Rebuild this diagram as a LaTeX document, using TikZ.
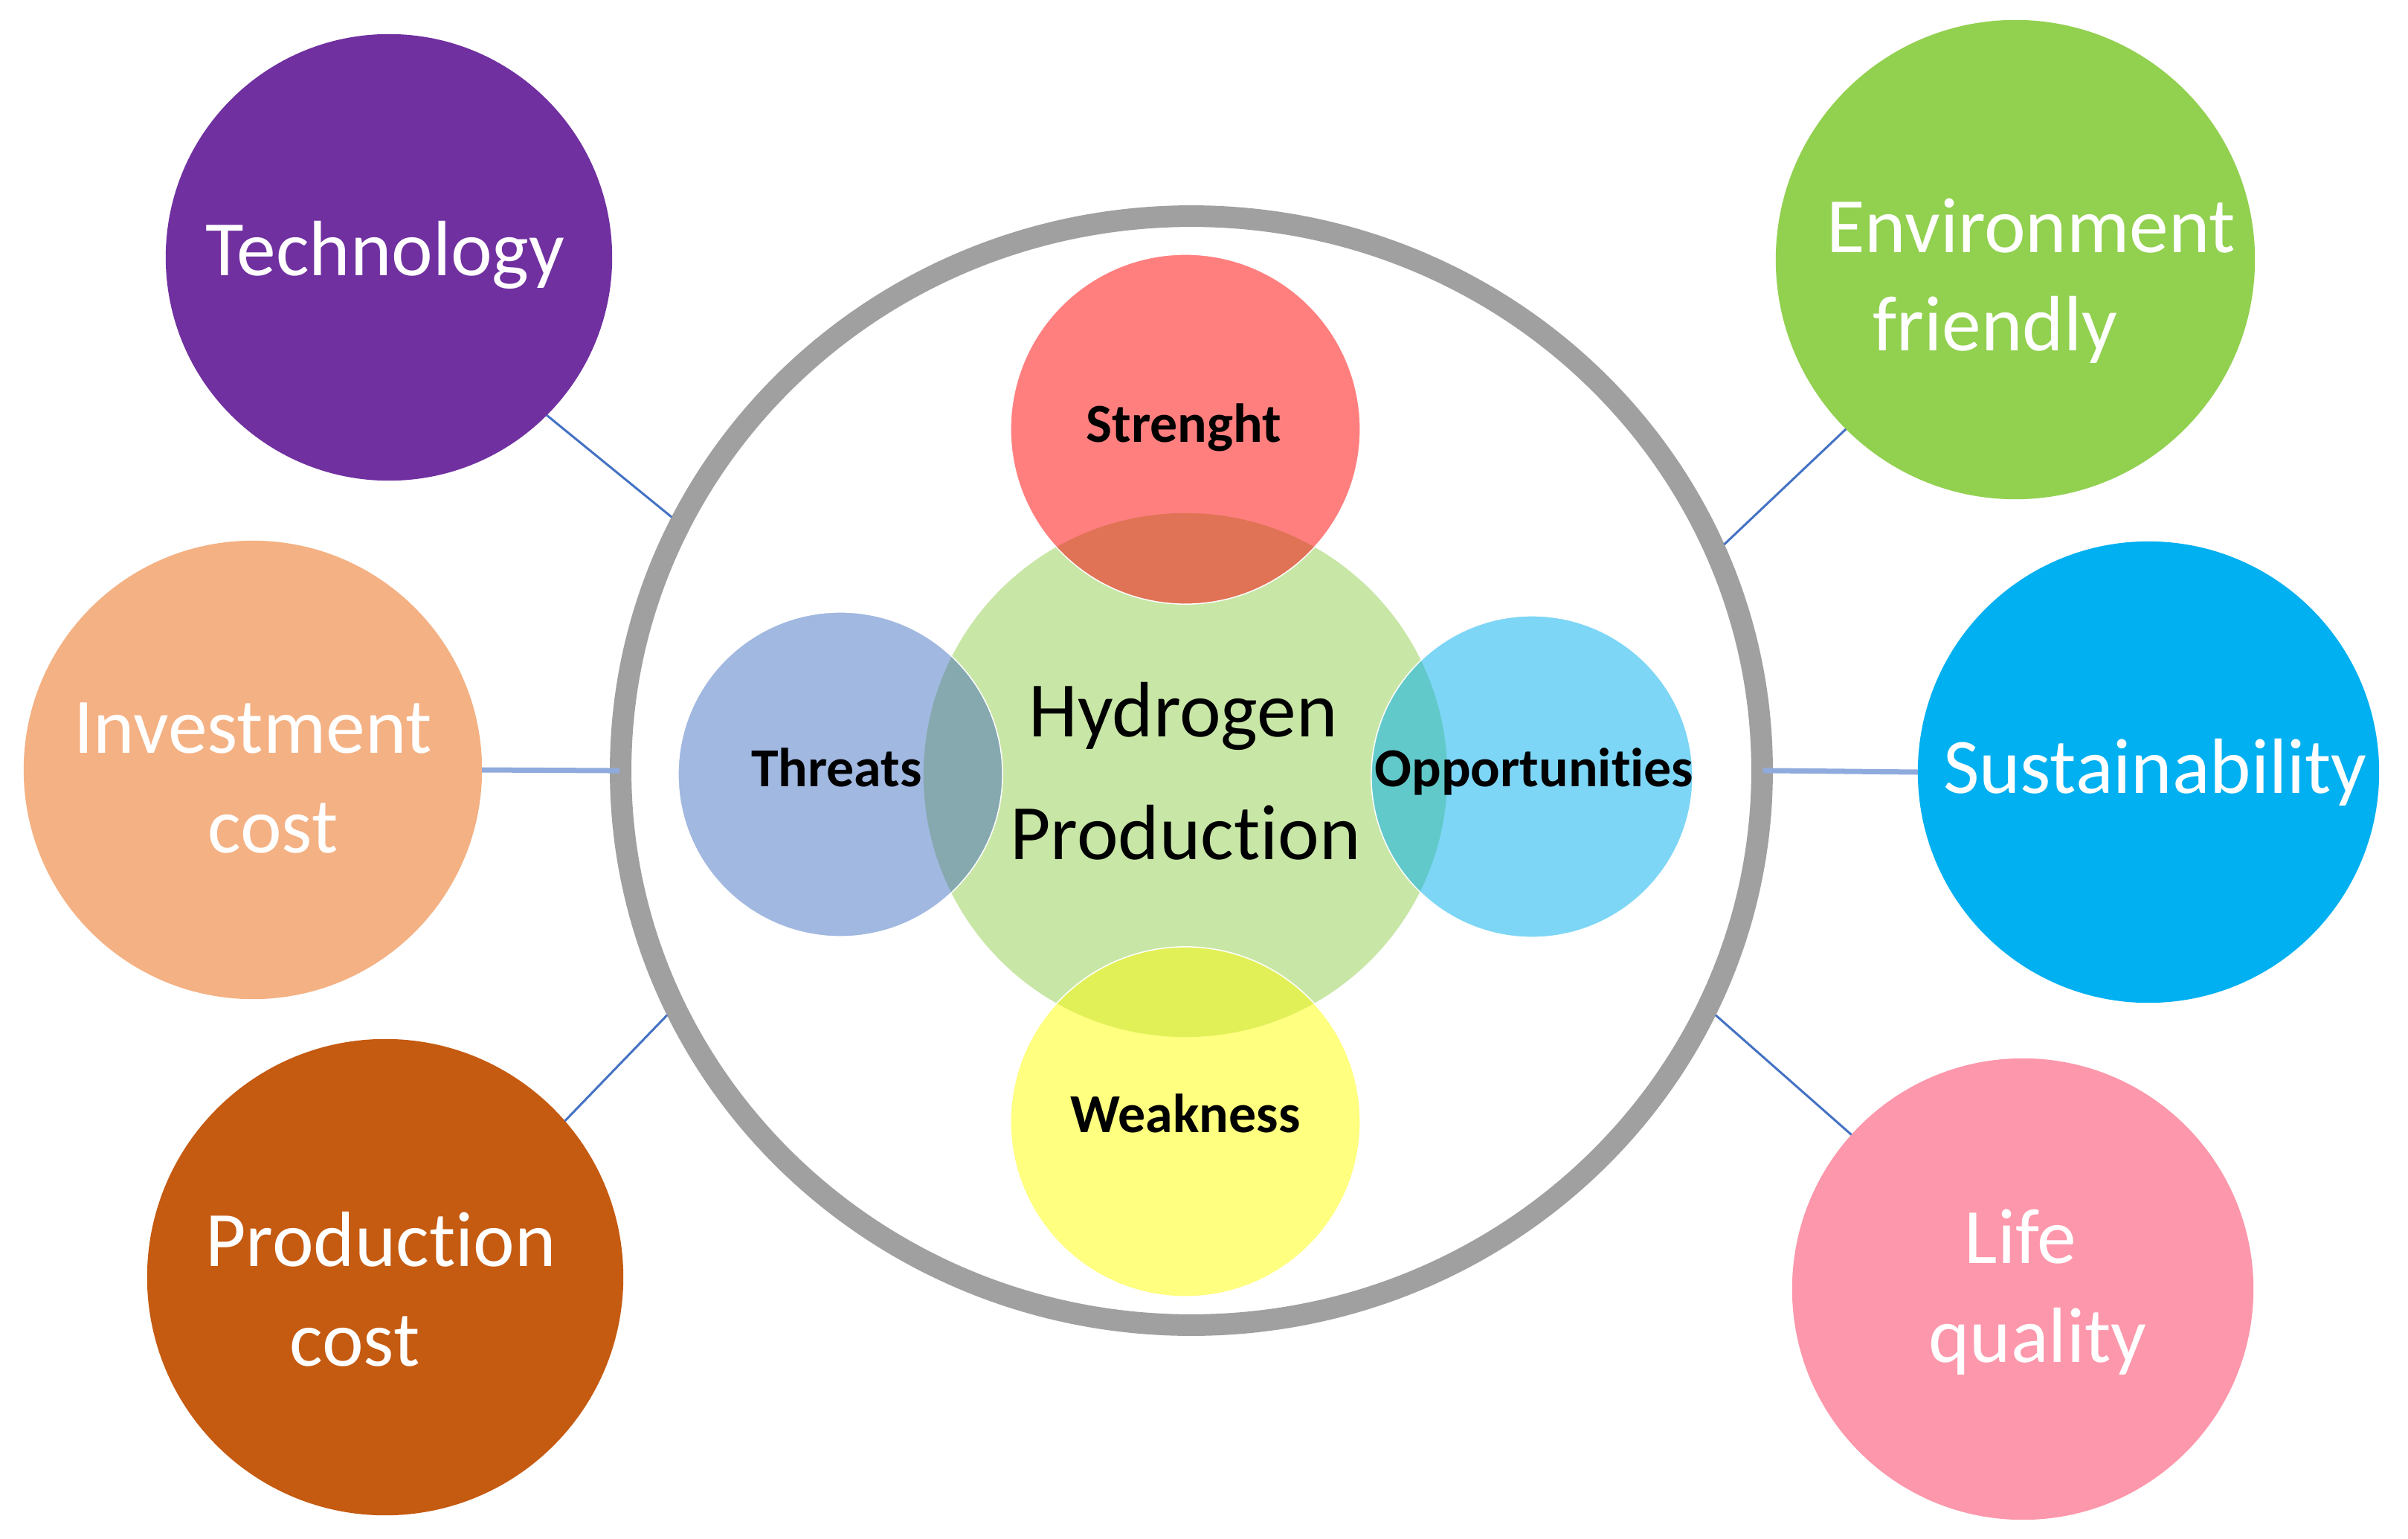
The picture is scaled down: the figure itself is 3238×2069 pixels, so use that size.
\documentclass[tikz,border=0pt]{standalone}
\usepackage{fontspec}
\setmainfont{Carlito}[Ligatures=NoCommon]
\usetikzlibrary{shapes.geometric}
\definecolor{cTech}{HTML}{7030A0}
\definecolor{cEnv}{HTML}{92D050}
\definecolor{cInv}{HTML}{F4B183}
\definecolor{cSus}{HTML}{00B0F0}
\definecolor{cProd}{HTML}{C55A11}
\definecolor{cLife}{HTML}{FD97AB}
\definecolor{cRing}{HTML}{A0A0A0}
\definecolor{cGreen}{HTML}{C8E6A6}
\definecolor{cStr}{HTML}{FF7F7F}
\definecolor{cThr}{HTML}{A1B8E0}
\definecolor{cOpp}{HTML}{7DD6F6}
\definecolor{cWeak}{HTML}{FFFF80}
\definecolor{oStr}{HTML}{E07355}
\definecolor{oThr}{HTML}{86A9B0}
\definecolor{oOpp}{HTML}{62C9CA}
\definecolor{oWeak}{HTML}{E2F057}
\definecolor{linkblue}{HTML}{4472C4}
\definecolor{linklight}{HTML}{8FAADC}
\begin{document}
\begin{tikzpicture}[x=0.01cm,y=-0.01cm,
  bubble/.style={circle, inner sep=0pt, outer sep=0pt, minimum size=#1},
  otxt/.style={anchor=base, text=white, inner sep=0pt, font=\fontsize{30}{36}\selectfont},
  ctxt/.style={anchor=base, text=black, inner sep=0pt, font=\fontsize{30}{36}\selectfont},
  itxt/.style={anchor=base, text=black, inner sep=0pt, font=\bfseries\fontsize{21}{25}\selectfont},
  thinlink/.style={draw=linkblue, line width=0.03cm},
  thicklink/.style={draw=linklight, line width=0.07cm},
  rim/.style={draw=white, line width=0.015cm}
]
\fill[white] (0,0) rectangle (3238,2069);
\useasboundingbox (0,0) rectangle (3238,2069);

% big ring
\node[ellipse, draw=cRing, line width=0.29cm, minimum width=15.34cm, minimum height=14.9cm, inner sep=0pt] (big) at (1602,1036) {};

% outer bubbles
\node[bubble=6.0cm, fill=cTech] (tech) at (523,346) {};
\node[bubble=6.44cm, fill=cEnv] (env) at (2710,349) {};
\node[bubble=6.16cm, fill=cInv] (inv) at (340,1035) {};
\node[bubble=6.2cm, fill=cSus] (sus) at (2889,1038) {};
\node[bubble=6.4cm, fill=cProd] (prod) at (518,1717) {};
\node[bubble=6.2cm, fill=cLife] (life) at (2720,1733) {};

% inner bubbles
\node[bubble=7.04cm, fill=cGreen] (green) at (1594,1042) {};
\node[bubble=4.7cm, fill=cStr] (str) at (1594,577) {};
\node[bubble=4.36cm, fill=cThr] (thr) at (1130,1041) {};
\node[bubble=4.32cm, fill=cOpp] (opp) at (2060,1044) {};
\node[bubble=4.7cm, fill=cWeak] (weak) at (1594,1508) {};

\begin{scope}
  \clip (green.center) circle[radius=3.52cm];
  \fill[oStr] (str.center) circle[radius=2.35cm];
  \fill[oThr] (thr.center) circle[radius=2.18cm];
  \fill[oOpp] (opp.center) circle[radius=2.16cm];
  \fill[oWeak] (weak.center) circle[radius=2.35cm];
\end{scope}
\draw[rim] (str.center) circle[radius=2.35cm];
\draw[rim] (thr.center) circle[radius=2.18cm];
\draw[rim] (opp.center) circle[radius=2.16cm];
\draw[rim] (weak.center) circle[radius=2.35cm];

% connectors
\draw[thinlink] (tech.-45) -- (big.154);
\draw[thinlink] (env.225) -- (big.23.5);
\draw[thicklink, shorten >=-0.13cm] (inv.0) -- (big.180);
\draw[thicklink, shorten >=-0.13cm] (sus.180) -- (big.0);
\draw[thinlink] (prod.41.5) -- (big.205.7);
\draw[thinlink] (life.138.4) -- (big.-25.3);

% outer texts
\node[otxt] (techt) at (518,370) {Technology};
\node[otxt] (envt1) at (2731,339) {Environment};
\node[otxt] (envt2) at (2683,471) {friendly};
\node[otxt] (invt1) at (340,1012) {Investment};
\node[otxt] (invt2) at (367,1146) {cost};
\node[otxt] (sust) at (2898,1066) {Sustainability};
\node[otxt] (prodt1) at (512,1702) {Production};
\node[otxt] (prodt2) at (477,1836) {cost};
\node[otxt] (lifet1) at (2717,1698) {Life};
\node[otxt] (lifet2) at (2740,1831) {quality};

% inner texts
\node[ctxt] (hyd1) at (1591,990) {Hydrogen};
\node[ctxt] (hyd2) at (1594,1155) {Production};
\node[itxt] (strt) at (1592,594) {Strenght};
\node[itxt] (thrt) at (1125,1057) {Threats};
\node[itxt] (oppt) at (2063,1057) {Opportunities};
\node[itxt] (weakt) at (1594,1522) {Weakness};
\end{tikzpicture}
\end{document}
